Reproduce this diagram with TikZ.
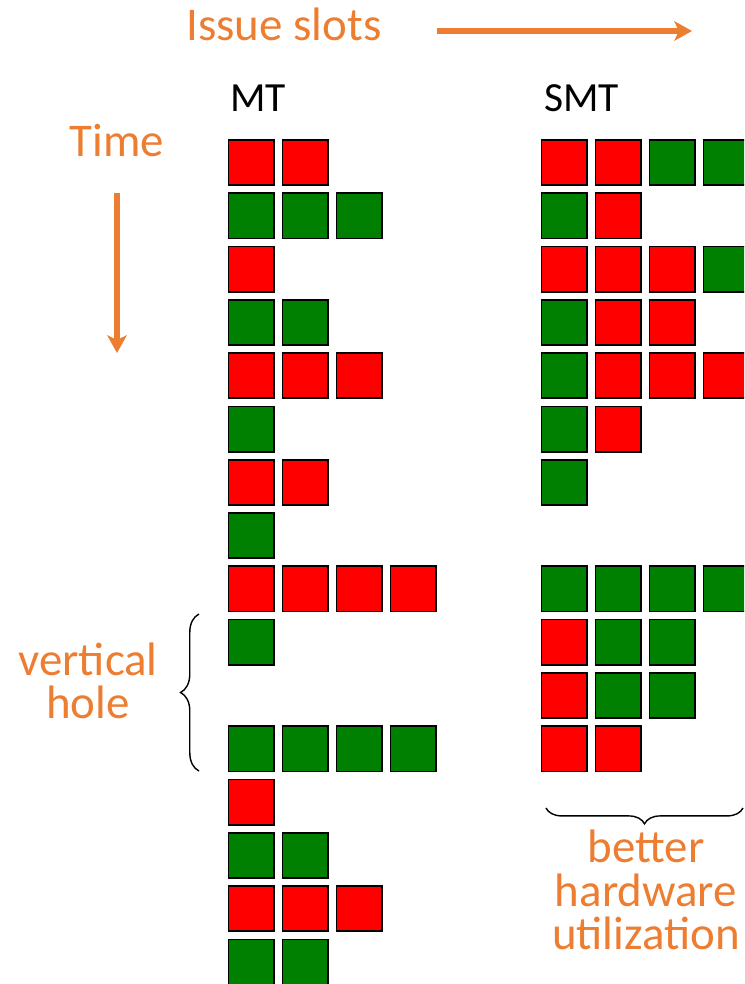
\documentclass[tikz,border=0pt]{standalone}
\usepackage{fontspec}
\setmainfont{Carlito}
\usetikzlibrary{arrows.meta,decorations.pathreplacing}
\definecolor{SlotOrange}{RGB}{237,125,49}
\definecolor{r}{RGB}{255,0,0}
\definecolor{g}{RGB}{0,128,0}

\begin{document}
\begin{tikzpicture}[x=0.02cm,y=-0.02cm,
  slot/.style={rectangle,draw=black,line width=1pt,minimum size=0.905cm,inner sep=0pt},
  lbl/.style={text=SlotOrange,font=\fontsize{26.7}{24.6}\selectfont,align=center,inner sep=0pt},
  hdr/.style={font=\fontsize{23.6}{28}\selectfont,inner sep=0pt},
  arr/.style={draw=SlotOrange,line width=3.1pt,-{Stealth[length=10pt,width=11pt,inset=2.5pt]}},
  brc/.style={draw=black,line width=0.8pt,decorate}
]
  \useasboundingbox (0,0) rectangle (744,984);
  \clip (0,0) rectangle (744,984);

  % headings
  \node[lbl,anchor=base] (issue) at (284,40) {Issue slots};
  \node[hdr,anchor=base west] (mt) at (230,111.7) {MT};
  \node[hdr,anchor=base west] (smt) at (544,111.7) {SMT};
  \node[lbl,anchor=base] (time) at (117,156.7) {Time};

  \coordinate (slots0) at (437,31);
  \coordinate (slots1) at (692,31);
  \draw[arr] (slots0) -- (slots1);
  \coordinate (time0) at (117,193);
  \coordinate (time1) at (117,353);
  \draw[arr] (time0) -- (time1);

  % MT: one thread per cycle
  \foreach \r/\row in {0/{r,r},1/{g,g,g},2/{r},3/{g,g},4/{r,r,r},5/{g},6/{r,r},7/{g},
                       8/{r,r,r,r},9/{g},11/{g,g,g,g},12/{r},13/{g,g},14/{r,r,r},15/{g,g}}
    \foreach \f [count=\c from 0] in \row
      \node[slot,fill=\f] (mt-\r-\c) at (251+54*\c,162.5+53.3*\r) {};

  % SMT: threads share the slots
  \foreach \r/\row in {0/{r,r,g,g},1/{g,r},2/{r,r,r,g},3/{g,r,r},4/{g,r,r,r},5/{g,r},6/{g},
                       8/{g,g,g,g},9/{r,g,g},10/{r,g,g},11/{r,r}}
    \foreach \f [count=\c from 0] in \row
      \node[slot,fill=\f] (smt-\r-\c) at (564+54*\c,162.5+53.3*\r) {};

  % vertical hole
  \coordinate (hole0) at (199,771);
  \coordinate (hole1) at (199,614);
  \draw[brc,decoration={brace,amplitude=10.5pt}] (hole0) -- (hole1);
  \node[lbl] (hole) at (88,680.5) {vertical\\hole};

  % utilization
  \coordinate (util0) at (743,808);
  \coordinate (util1) at (546,808);
  \draw[brc,decoration={brace,amplitude=9pt}] (util0) -- (util1);
  \node[lbl] (util) at (646,890) {better\\hardware\\utilization};
\end{tikzpicture}
\end{document}
